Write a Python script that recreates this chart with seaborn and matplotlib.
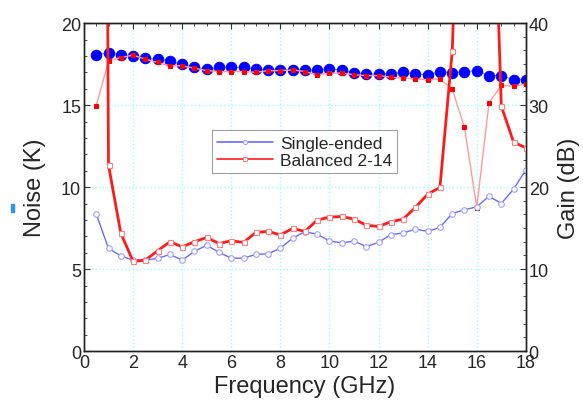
import numpy as np
import matplotlib
matplotlib.use("Agg")
import matplotlib.pyplot as plt
import seaborn as sns
from matplotlib.ticker import MultipleLocator, AutoMinorLocator
from matplotlib.patches import Rectangle

freq = [0.5, 1.0, 1.5, 2.0, 2.5, 3.0, 3.5, 4.0, 4.5, 5.0, 5.5, 6.0,
        6.5, 7.0, 7.5, 8.0, 8.5, 9.0, 9.5, 10.0, 10.5, 11.0, 11.5, 12.0,
        12.5, 13.0, 13.5, 14.0, 14.5, 15.0, 15.5, 16.0, 16.5, 17.0, 17.5, 18.0]

# noise (K)
se_noise = [8.37, 6.26, 5.81, 5.55, 5.55, 5.65, 5.9, 5.55, 6.08, 6.46, 6.02, 5.67,
            5.67, 5.9, 5.93, 6.28, 6.89, 7.28, 7.13, 6.72, 6.6, 6.71, 6.38, 6.63,
            7.11, 7.2, 7.44, 7.3, 7.54, 8.39, 8.62, 8.8, 9.45, 9.0, 9.88, 11.05]
bal_noise = [150, 11.34, 7.2, 5.48, 5.55, 6.12, 6.67, 6.36, 6.67, 6.93, 6.56, 6.73,
             6.63, 7.24, 7.3, 7.09, 7.48, 7.3, 7.99, 8.17, 8.21, 8.05, 7.68, 7.6,
             7.89, 8.05, 8.76, 9.57, 9.98, 18.27, 40, 60, 38, 14.94, 12.74, 12.4]

# gain (dB)
se_gain = [36.1, 36.4, 36.1, 36.0, 35.7, 35.6, 35.4, 35.0, 34.6, 34.4, 34.6, 34.6,
           34.6, 34.4, 34.3, 34.3, 34.3, 34.3, 34.3, 34.4, 34.3, 33.9, 33.8, 33.8,
           33.8, 34.0, 33.8, 33.7, 34.1, 33.9, 34.1, 34.2, 33.6, 33.6, 33.1, 33.1]
bal_gain = [29.9, 35.4, 35.8, 36.1, 35.6, 35.2, 34.8, 34.8, 34.5, 34.2, 34.1, 34.1,
            34.1, 34.0, 34.2, 34.2, 34.3, 34.1, 33.7, 33.9, 33.9, 33.7, 33.6, 33.6,
            33.4, 33.3, 33.2, 33.1, 33.2, 31.95, 27.3, 17.5, 30.3, 32.4, 32.3, 32.6]

sns.set_style("white")
plt.rcParams['font.family'] = ['Liberation Sans', 'DejaVu Sans']

fig, ax = plt.subplots(figsize=(5.83, 4.02), dpi=100)
fig.subplots_adjust(left=0.144, right=0.902, bottom=0.124, top=0.940)
ax2 = ax.twinx()

# gain on right axis (drawn underneath)
sns.lineplot(x=freq, y=se_gain, ax=ax2, color='#8080ff', linewidth=0.8,
             marker='o', markersize=7.5, markerfacecolor='#0000ff',
             markeredgecolor='#0000ff', sort=False)
sns.lineplot(x=freq, y=bal_gain, ax=ax2, color='#ff9a9a', linewidth=1.0,
             marker='s', markersize=3.5, markerfacecolor='#ff0000',
             markeredgecolor='#ff0000', sort=False)

# noise on left axis
sns.lineplot(x=freq, y=se_noise, ax=ax, color='#6a6aff', linewidth=1.0,
             marker='o', markersize=4, markerfacecolor='white',
             markeredgecolor='#a0a0ff', markeredgewidth=0.8, sort=False,
             label='Single-ended')
sns.lineplot(x=freq, y=bal_noise, ax=ax, color='#ff1a1a', linewidth=2.0,
             marker='s', markersize=3.6, markerfacecolor='white',
             markeredgecolor='#ff8080', markeredgewidth=0.8, sort=False,
             label='Balanced 2-14')

ax.set_zorder(ax2.get_zorder() + 1)
ax.patch.set_visible(False)

ax.set_xlim(0, 18)
ax.set_ylim(0, 20)
ax2.set_ylim(0, 40)

ax.xaxis.set_major_locator(MultipleLocator(2))
ax.xaxis.set_minor_locator(MultipleLocator(0.5))
ax.yaxis.set_major_locator(MultipleLocator(5))
ax.yaxis.set_minor_locator(MultipleLocator(1))
ax2.yaxis.set_major_locator(MultipleLocator(10))
ax2.yaxis.set_minor_locator(AutoMinorLocator(6))

# grid lives on the lower (gain) axes so it sits under every mark
ax2.xaxis.set_visible(True)
ax2.xaxis.set_major_locator(MultipleLocator(2))
ax2.tick_params(axis='x', which='both', bottom=False, top=False,
                labelbottom=False, labeltop=False)
grid_kw = dict(color='#99ffff', linestyle=':', linewidth=1.0)
ax2.grid(True, which='major', **grid_kw)
ax2.set_axisbelow(True)

ax.tick_params(axis='x', which='both', direction='in', top=True, labelsize=13, pad=2)
ax.tick_params(axis='y', which='both', direction='in', left=True, right=False, labelsize=13, pad=2)
ax.tick_params(which='major', length=4, color='#333333')
ax.tick_params(which='minor', length=2.5, color='#333333')
ax2.tick_params(axis='y', which='both', direction='in', right=True, labelsize=13, pad=2)
ax2.tick_params(axis='y', which='major', length=4, color='#333333')
ax2.tick_params(axis='y', which='minor', length=2.5, color='#333333')

ax.set_xlabel('Frequency (GHz)', fontsize=17, labelpad=3)
ax.set_ylabel('Noise (K)', fontsize=17, labelpad=11)
ax2.set_ylabel('Gain (dB)', fontsize=17, labelpad=7)

for a in (ax, ax2):
    for s in a.spines.values():
        s.set_color('#222222')
        s.set_linewidth(1.0)

leg = ax.legend(handles=ax.lines[:2], labels=['Single-ended', 'Balanced 2-14'],
                loc='upper left', bbox_to_anchor=(0.29, 0.673), fontsize=12.5,
                frameon=True, fancybox=False, edgecolor='#888888',
                handlelength=3.2, borderpad=0.3, labelspacing=0.1,
                handletextpad=0.4, borderaxespad=0)
leg.get_frame().set_linewidth(0.8)
for h in leg.legend_handles:
    h.set_markersize(3)
    h.set_linewidth(1.2)

fig.patches.append(Rectangle((11 / 583, 1 - 213 / 402), 3 / 583, 8 / 402,
                             transform=fig.transFigure, color='#2a95f0'))

plt.savefig('out.png', dpi=100)
